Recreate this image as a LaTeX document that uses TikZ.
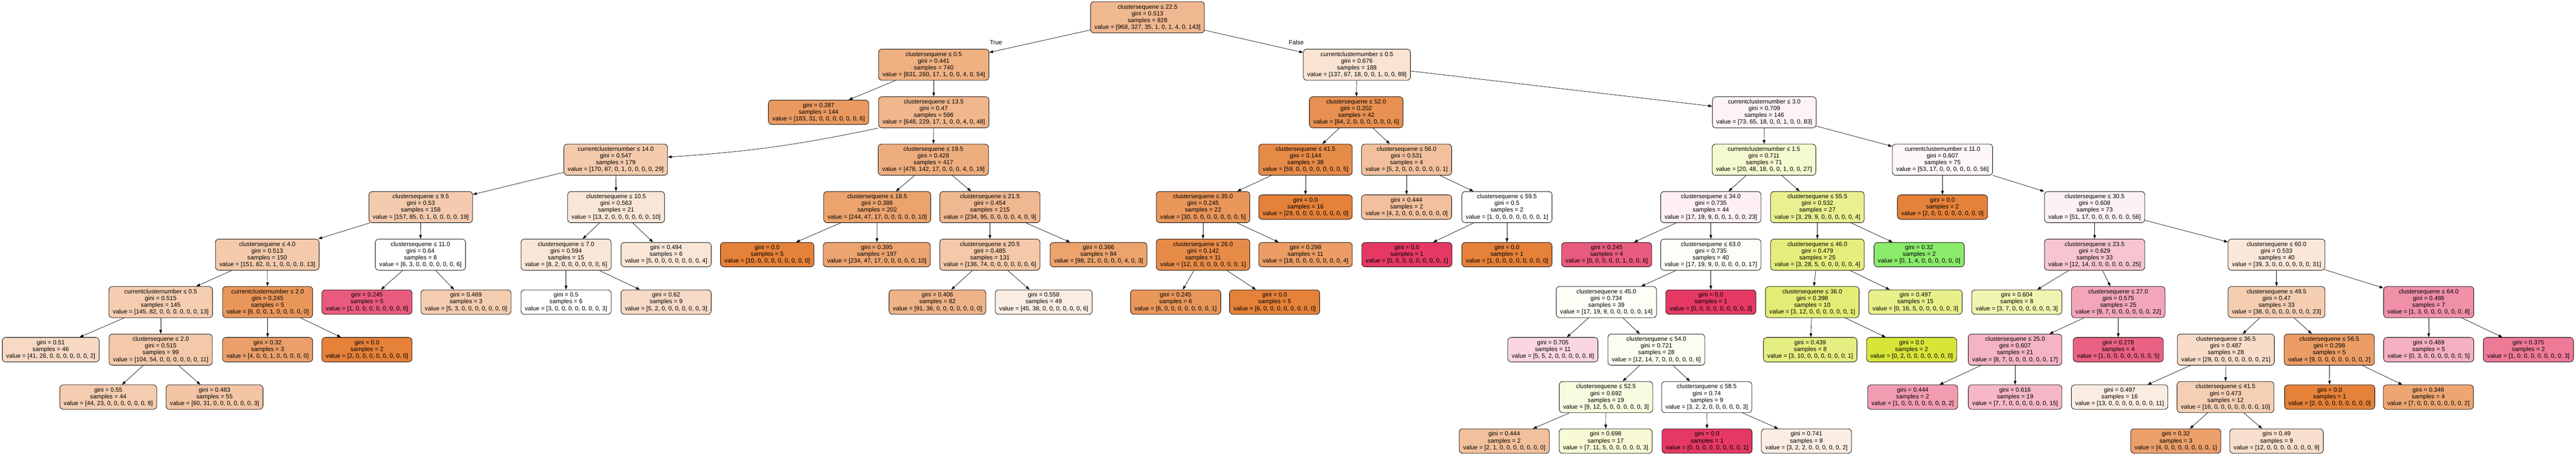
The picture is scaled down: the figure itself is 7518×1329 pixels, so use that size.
\documentclass[tikz,border=0pt]{standalone}
\usepackage{fontspec}
\setmainfont{Liberation Sans}
\usetikzlibrary{arrows.meta}

\begin{document}
\begin{tikzpicture}[x=0.02cm, y=-0.02cm,
  box/.style={draw=black, line width=0.7pt, rounded corners=0.2cm, align=center, inner xsep=6.5pt, inner ysep=4.4pt, font=\fontsize{10.1}{11.2}\selectfont},
  arr/.style={line width=0.6pt, -{Triangle[length=6.5pt, width=4.5pt]}},
  lbl/.style={font=\fontsize{10.1}{11.2}\selectfont}]
\definecolor{clsa}{HTML}{E58139}
\definecolor{clsb}{HTML}{D7E539}
\definecolor{clsc}{HTML}{64E539}
\definecolor{clsi}{HTML}{E53964}

\path [use as bounding box, fill=white] (0,0) rectangle (7518,1329);

\node [box, fill=clsa!56] (n0) at (3349,50.5) {clustersequene ≤ 22.5\\gini = 0.513\\samples = 928\\value = [968, 327, 35, 1, 0, 1, 4, 0, 143]};

\node [box, fill=clsa!63] (n1) at (2725,189) {clustersequene ≤ 0.5\\gini = 0.441\\samples = 740\\value = [831, 260, 17, 1, 0, 0, 4, 0, 54]};
\node [box, fill=clsa!22] (n2) at (3960,189) {currentclusternumber ≤ 0.5\\gini = 0.676\\samples = 188\\value = [137, 67, 18, 0, 0, 1, 0, 0, 89]};

\node [box, fill=clsa!80] (n3) at (2389,328) {gini = 0.287\\samples = 144\\value = [183, 31, 0, 0, 0, 0, 0, 0, 6]};
\node [box, fill=clsa!58] (n4) at (2725,328) {clustersequene ≤ 13.5\\gini = 0.47\\samples = 596\\value = [648, 229, 17, 1, 0, 0, 4, 0, 48]};
\node [box, fill=clsa!88] (n5) at (3958,328) {clustersequene ≤ 52.0\\gini = 0.202\\samples = 42\\value = [64, 2, 0, 0, 0, 0, 0, 0, 6]};
\node [box, fill=clsi!6] (n6) at (5149,328) {currentclusternumber ≤ 3.0\\gini = 0.709\\samples = 146\\value = [73, 65, 18, 0, 0, 1, 0, 0, 83]};

\node [box, fill=clsa!42] (n7) at (1797,466.5) {currentclusternumber ≤ 14.0\\gini = 0.547\\samples = 179\\value = [170, 87, 0, 1, 0, 0, 0, 0, 29]};
\node [box, fill=clsa!65] (n8) at (2724,466.5) {clustersequene ≤ 19.5\\gini = 0.428\\samples = 417\\value = [478, 142, 17, 0, 0, 0, 4, 0, 19]};
\node [box, fill=clsa!92] (n9) at (3810,466.5) {clustersequene ≤ 41.5\\gini = 0.144\\samples = 38\\value = [59, 0, 0, 0, 0, 0, 0, 0, 5]};
\node [box, fill=clsa!50] (n10) at (4105,466.5) {clustersequene ≤ 56.0\\gini = 0.531\\samples = 4\\value = [5, 2, 0, 0, 0, 0, 0, 0, 1]};
\node [box, fill=clsb!24] (n11) at (5148,466.5) {currentclusternumber ≤ 1.5\\gini = 0.711\\samples = 71\\value = [20, 48, 18, 0, 0, 1, 0, 0, 27]};
\node [box, fill=clsi!4] (n12) at (5669,466.5) {currentclusternumber ≤ 11.0\\gini = 0.607\\samples = 75\\value = [53, 17, 0, 0, 0, 0, 0, 0, 56]};

\node [box, fill=clsa!41] (n13) at (1228,605) {clustersequene ≤ 9.5\\gini = 0.53\\samples = 158\\value = [157, 85, 0, 1, 0, 0, 0, 0, 19]};
\node [box, fill=clsa!20] (n14) at (1798,605) {clustersequene ≤ 10.5\\gini = 0.563\\samples = 21\\value = [13, 2, 0, 0, 0, 0, 0, 0, 10]};
\node [box, fill=clsa!73] (n15) at (2560,605) {clustersequene ≤ 18.5\\gini = 0.386\\samples = 202\\value = [244, 47, 17, 0, 0, 0, 0, 0, 10]};
\node [box, fill=clsa!56] (n16) at (2889,605) {clustersequene ≤ 21.5\\gini = 0.454\\samples = 215\\value = [234, 95, 0, 0, 0, 0, 4, 0, 9]};
\node [box, fill=clsa!83] (n17) at (3511,605) {clustersequene ≤ 35.0\\gini = 0.245\\samples = 22\\value = [30, 0, 0, 0, 0, 0, 0, 0, 5]};
\node [box, fill=clsa] (n18) at (3810,605) {gini = 0.0\\samples = 16\\value = [29, 0, 0, 0, 0, 0, 0, 0, 0]};
\node [box, fill=clsa!50] (n19) at (4105,605) {gini = 0.444\\samples = 2\\value = [4, 2, 0, 0, 0, 0, 0, 0, 0]};
\node [box, fill=white] (n20) at (4398,605) {clustersequene ≤ 59.5\\gini = 0.5\\samples = 2\\value = [1, 0, 0, 0, 0, 0, 0, 0, 1]};
\node [box, fill=clsi!8] (n21) at (4993,605) {clustersequene ≤ 34.0\\gini = 0.735\\samples = 44\\value = [17, 19, 9, 0, 0, 1, 0, 0, 23]};
\node [box, fill=clsb!56] (n22) at (5304,605) {clustersequene ≤ 55.5\\gini = 0.532\\samples = 27\\value = [3, 29, 9, 0, 0, 0, 0, 0, 4]};
\node [box, fill=clsa] (n23) at (5669,605) {gini = 0.0\\samples = 2\\value = [2, 0, 0, 0, 0, 0, 0, 0, 0]};
\node [box, fill=clsi!7] (n24) at (6113,605) {clustersequene ≤ 30.5\\gini = 0.608\\samples = 73\\value = [51, 17, 0, 0, 0, 0, 0, 0, 56]};

\node [box, fill=clsa!42] (n25) at (780,744) {clustersequene ≤ 4.0\\gini = 0.513\\samples = 150\\value = [151, 82, 0, 1, 0, 0, 0, 0, 13]};
\node [box, fill=white] (n26) at (1227,744) {clustersequene ≤ 11.0\\gini = 0.64\\samples = 8\\value = [6, 3, 0, 0, 0, 0, 0, 0, 6]};
\node [box, fill=clsa!20] (n27) at (1652,744) {clustersequene ≤ 7.0\\gini = 0.594\\samples = 15\\value = [8, 2, 0, 0, 0, 0, 0, 0, 6]};
\node [box, fill=clsa!20] (n28) at (1944,744) {gini = 0.494\\samples = 6\\value = [5, 0, 0, 0, 0, 0, 0, 0, 4]};
\node [box, fill=clsa] (n29) at (2239,744) {gini = 0.0\\samples = 5\\value = [10, 0, 0, 0, 0, 0, 0, 0, 0]};
\node [box, fill=clsa!72] (n30) at (2559,744) {gini = 0.395\\samples = 197\\value = [234, 47, 17, 0, 0, 0, 0, 0, 10]};
\node [box, fill=clsa!44] (n31) at (2889,744) {clustersequene ≤ 20.5\\gini = 0.485\\samples = 131\\value = [136, 74, 0, 0, 0, 0, 0, 0, 6]};
\node [box, fill=clsa!73] (n32) at (3206,744) {gini = 0.366\\samples = 84\\value = [98, 21, 0, 0, 0, 0, 4, 0, 3]};
\node [box, fill=clsa!92] (n33) at (3511,744) {clustersequene ≤ 26.0\\gini = 0.142\\samples = 11\\value = [12, 0, 0, 0, 0, 0, 0, 0, 1]};
\node [box, fill=clsa!78] (n34) at (3810,744) {gini = 0.298\\samples = 11\\value = [18, 0, 0, 0, 0, 0, 0, 0, 4]};
\node [box, fill=clsi] (n35) at (4106,744) {gini = 0.0\\samples = 1\\value = [0, 0, 0, 0, 0, 0, 0, 0, 1]};
\node [box, fill=clsa] (n36) at (4398,744) {gini = 0.0\\samples = 1\\value = [1, 0, 0, 0, 0, 0, 0, 0, 0]};
\node [box, fill=clsi!83] (n37) at (4689,744) {gini = 0.245\\samples = 4\\value = [0, 0, 0, 0, 0, 1, 0, 0, 6]};
\node [box, fill=clsb!4] (n38) at (4993,744) {clustersequene ≤ 63.0\\gini = 0.735\\samples = 40\\value = [17, 19, 9, 0, 0, 0, 0, 0, 17]};
\node [box, fill=clsb!66] (n39) at (5304,744) {clustersequene ≤ 46.0\\gini = 0.479\\samples = 25\\value = [3, 28, 5, 0, 0, 0, 0, 0, 4]};
\node [box, fill=clsc!75] (n40) at (5601,744) {gini = 0.32\\samples = 2\\value = [0, 1, 4, 0, 0, 0, 0, 0, 0]};
\node [box, fill=clsi!30] (n41) at (6113,744) {clustersequene ≤ 23.5\\gini = 0.629\\samples = 33\\value = [12, 14, 0, 0, 0, 0, 0, 0, 25]};
\node [box, fill=clsa!19] (n42) at (6644,744) {clustersequene ≤ 60.0\\gini = 0.533\\samples = 40\\value = [39, 3, 0, 0, 0, 0, 0, 0, 31]};

\node [box, fill=clsa!40] (n43) at (469,882.5) {currentclusternumber ≤ 0.5\\gini = 0.515\\samples = 145\\value = [145, 82, 0, 0, 0, 0, 0, 0, 13]};
\node [box, fill=clsa!83] (n44) at (781,882.5) {currentclusternumber ≤ 2.0\\gini = 0.245\\samples = 5\\value = [6, 0, 0, 1, 0, 0, 0, 0, 0]};
\node [box, fill=clsi!83] (n45) at (1071,882.5) {gini = 0.245\\samples = 5\\value = [1, 0, 0, 0, 0, 0, 0, 0, 6]};
\node [box, fill=clsa!40] (n46) at (1360,882.5) {gini = 0.469\\samples = 3\\value = [5, 3, 0, 0, 0, 0, 0, 0, 0]};
\node [box, fill=white] (n47) at (1652,882.5) {gini = 0.5\\samples = 6\\value = [3, 0, 0, 0, 0, 0, 0, 0, 3]};
\node [box, fill=clsa!29] (n48) at (1944,882.5) {gini = 0.62\\samples = 9\\value = [5, 2, 0, 0, 0, 0, 0, 0, 3]};
\node [box, fill=clsa!60] (n49) at (2736,882.5) {gini = 0.406\\samples = 82\\value = [91, 36, 0, 0, 0, 0, 0, 0, 0]};
\node [box, fill=clsa!14] (n50) at (3046,882.5) {gini = 0.558\\samples = 49\\value = [45, 38, 0, 0, 0, 0, 0, 0, 6]};
\node [box, fill=clsa!83] (n51) at (3431,882.5) {gini = 0.245\\samples = 6\\value = [6, 0, 0, 0, 0, 0, 0, 0, 1]};
\node [box, fill=clsa] (n52) at (3720,882.5) {gini = 0.0\\samples = 5\\value = [6, 0, 0, 0, 0, 0, 0, 0, 0]};
\node [box, fill=clsb!5] (n53) at (4688,882.5) {clustersequene ≤ 45.0\\gini = 0.734\\samples = 39\\value = [17, 19, 9, 0, 0, 0, 0, 0, 14]};
\node [box, fill=clsi] (n54) at (4993,882.5) {gini = 0.0\\samples = 1\\value = [0, 0, 0, 0, 0, 0, 0, 0, 3]};
\node [box, fill=clsb!69] (n55) at (5289,882.5) {clustersequene ≤ 36.0\\gini = 0.398\\samples = 10\\value = [3, 12, 0, 0, 0, 0, 0, 0, 1]};
\node [box, fill=clsb!58] (n56) at (5590,882.5) {gini = 0.497\\samples = 15\\value = [0, 16, 5, 0, 0, 0, 0, 0, 3]};
\node [box, fill=clsb!40] (n57) at (5886,882.5) {gini = 0.604\\samples = 8\\value = [3, 7, 0, 0, 0, 0, 0, 0, 3]};
\node [box, fill=clsi!45] (n58) at (6182,882.5) {clustersequene ≤ 27.0\\gini = 0.575\\samples = 25\\value = [9, 7, 0, 0, 0, 0, 0, 0, 22]};
\node [box, fill=clsa!39] (n59) at (6644,882.5) {clustersequene ≤ 49.5\\gini = 0.47\\samples = 33\\value = [38, 0, 0, 0, 0, 0, 0, 0, 23]};
\node [box, fill=clsi!56] (n60) at (7088,882.5) {clustersequene ≤ 64.0\\gini = 0.486\\samples = 7\\value = [1, 3, 0, 0, 0, 0, 0, 0, 8]};

\node [box, fill=clsa!30] (n61) at (148,1021.5) {gini = 0.51\\samples = 46\\value = [41, 28, 0, 0, 0, 0, 0, 0, 2]};
\node [box, fill=clsa!43] (n62) at (469,1021.5) {clustersequene ≤ 2.0\\gini = 0.515\\samples = 99\\value = [104, 54, 0, 0, 0, 0, 0, 0, 11]};
\node [box, fill=clsa!75] (n63) at (781,1021.5) {gini = 0.32\\samples = 3\\value = [4, 0, 0, 1, 0, 0, 0, 0, 0]};
\node [box, fill=clsa] (n64) at (1071,1021.5) {gini = 0.0\\samples = 2\\value = [2, 0, 0, 0, 0, 0, 0, 0, 0]};
\node [box, fill=clsi!20] (n65) at (4532,1021.5) {gini = 0.705\\samples = 11\\value = [5, 5, 2, 0, 0, 0, 0, 0, 8]};
\node [box, fill=clsb!7] (n66) at (4834,1021.5) {clustersequene ≤ 54.0\\gini = 0.721\\samples = 28\\value = [12, 14, 7, 0, 0, 0, 0, 0, 6]};
\node [box, fill=clsb!64] (n67) at (5283,1021.5) {gini = 0.439\\samples = 8\\value = [3, 10, 0, 0, 0, 0, 0, 0, 1]};
\node [box, fill=clsb] (n68) at (5579,1021.5) {gini = 0.0\\samples = 2\\value = [0, 2, 0, 0, 0, 0, 0, 0, 0]};
\node [box, fill=clsi!38] (n69) at (5881,1021.5) {clustersequene ≤ 25.0\\gini = 0.607\\samples = 21\\value = [8, 7, 0, 0, 0, 0, 0, 0, 17]};
\node [box, fill=clsi!80] (n70) at (6182,1021.5) {gini = 0.278\\samples = 4\\value = [1, 0, 0, 0, 0, 0, 0, 0, 5]};
\node [box, fill=clsa!28] (n71) at (6496,1021.5) {clustersequene ≤ 36.5\\gini = 0.487\\samples = 28\\value = [29, 0, 0, 0, 0, 0, 0, 0, 21]};
\node [box, fill=clsa!78] (n72) at (6798,1021.5) {clustersequene ≤ 56.5\\gini = 0.298\\samples = 5\\value = [9, 0, 0, 0, 0, 0, 0, 0, 2]};
\node [box, fill=clsi!40] (n73) at (7088,1021.5) {gini = 0.469\\samples = 5\\value = [0, 3, 0, 0, 0, 0, 0, 0, 5]};
\node [box, fill=clsi!67] (n74) at (7379,1021.5) {gini = 0.375\\samples = 2\\value = [1, 0, 0, 0, 0, 0, 0, 0, 3]};

\node [box, fill=clsa!40] (n75) at (316,1160) {gini = 0.55\\samples = 44\\value = [44, 23, 0, 0, 0, 0, 0, 0, 8]};
\node [box, fill=clsa!46] (n76) at (626,1160) {gini = 0.483\\samples = 55\\value = [60, 31, 0, 0, 0, 0, 0, 0, 3]};
\node [box, fill=clsb!15] (n77) at (4687,1160) {clustersequene ≤ 52.5\\gini = 0.692\\samples = 19\\value = [9, 12, 5, 0, 0, 0, 0, 0, 3]};
\node [box, fill=white] (n78) at (4981,1160) {clustersequene ≤ 58.5\\gini = 0.74\\samples = 9\\value = [3, 2, 2, 0, 0, 0, 0, 0, 3]};
\node [box, fill=clsi!50] (n79) at (5582,1160) {gini = 0.444\\samples = 2\\value = [1, 0, 0, 0, 0, 0, 0, 0, 2]};
\node [box, fill=clsi!36] (n80) at (5881,1160) {gini = 0.616\\samples = 19\\value = [7, 7, 0, 0, 0, 0, 0, 0, 15]};
\node [box, fill=clsa!15] (n81) at (6186,1160) {gini = 0.497\\samples = 16\\value = [13, 0, 0, 0, 0, 0, 0, 0, 11]};
\node [box, fill=clsa!38] (n82) at (6495,1160) {clustersequene ≤ 41.5\\gini = 0.473\\samples = 12\\value = [16, 0, 0, 0, 0, 0, 0, 0, 10]};
\node [box, fill=clsa] (n83) at (6799,1160) {gini = 0.0\\samples = 1\\value = [2, 0, 0, 0, 0, 0, 0, 0, 0]};
\node [box, fill=clsa!71] (n84) at (7087,1160) {gini = 0.346\\samples = 4\\value = [7, 0, 0, 0, 0, 0, 0, 0, 2]};

\node [box, fill=clsa!50] (n85) at (4390,1288.5) {gini = 0.444\\samples = 2\\value = [2, 1, 0, 0, 0, 0, 0, 0, 0]};
\node [box, fill=clsb!21] (n86) at (4686,1288.5) {gini = 0.698\\samples = 17\\value = [7, 11, 5, 0, 0, 0, 0, 0, 3]};
\node [box, fill=clsi] (n87) at (4982,1288.5) {gini = 0.0\\samples = 1\\value = [0, 0, 0, 0, 0, 0, 0, 0, 1]};
\node [box, fill=clsa!14] (n88) at (5272,1288.5) {gini = 0.741\\samples = 8\\value = [3, 2, 2, 0, 0, 0, 0, 0, 2]};
\node [box, fill=clsa!75] (n89) at (6350,1288.5) {gini = 0.32\\samples = 3\\value = [4, 0, 0, 0, 0, 0, 0, 0, 1]};
\node [box, fill=clsa!25] (n90) at (6644,1288.5) {gini = 0.49\\samples = 9\\value = [12, 0, 0, 0, 0, 0, 0, 0, 9]};

\node [lbl] (ltrue) at (2907,124) {True};
\node [lbl] (lfalse) at (3783,124) {False};

\draw [arr] (n0) -- (n1);
\draw [arr] (n0) -- (n2);
\draw [arr] (n1) -- (n3);
\draw [arr] (n1) -- (n4);
\draw [arr] (n2) -- (n5);
\draw [arr] (n2) -- (n6);
\draw [arr] (n4.south west) to [bend left=4] (n7);
\draw [arr] (n4) -- (n8);
\draw [arr] (n5) -- (n9);
\draw [arr] (n5) -- (n10);
\draw [arr] (n6) -- (n11);
\draw [arr] (n6) -- (n12);
\draw [arr] (n7) -- (n13);
\draw [arr] (n7) -- (n14);
\draw [arr] (n8) -- (n15);
\draw [arr] (n8) -- (n16);
\draw [arr] (n9) -- (n17);
\draw [arr] (n9) -- (n18);
\draw [arr] (n10) -- (n19);
\draw [arr] (n10) -- (n20);
\draw [arr] (n11) -- (n21);
\draw [arr] (n11) -- (n22);
\draw [arr] (n12) -- (n23);
\draw [arr] (n12) -- (n24);
\draw [arr] (n13) -- (n25);
\draw [arr] (n13) -- (n26);
\draw [arr] (n14) -- (n27);
\draw [arr] (n14) -- (n28);
\draw [arr] (n15) -- (n29);
\draw [arr] (n15) -- (n30);
\draw [arr] (n16) -- (n31);
\draw [arr] (n16) -- (n32);
\draw [arr] (n17) -- (n33);
\draw [arr] (n17) -- (n34);
\draw [arr] (n20) -- (n35);
\draw [arr] (n20) -- (n36);
\draw [arr] (n21) -- (n37);
\draw [arr] (n21) -- (n38);
\draw [arr] (n22) -- (n39);
\draw [arr] (n22) -- (n40);
\draw [arr] (n24) -- (n41);
\draw [arr] (n24) -- (n42);
\draw [arr] (n25) -- (n43);
\draw [arr] (n25) -- (n44);
\draw [arr] (n26) -- (n45);
\draw [arr] (n26) -- (n46);
\draw [arr] (n27) -- (n47);
\draw [arr] (n27) -- (n48);
\draw [arr] (n31) -- (n49);
\draw [arr] (n31) -- (n50);
\draw [arr] (n33) -- (n51);
\draw [arr] (n33) -- (n52);
\draw [arr] (n38) -- (n53);
\draw [arr] (n38) -- (n54);
\draw [arr] (n39) -- (n55);
\draw [arr] (n39) -- (n56);
\draw [arr] (n41) -- (n57);
\draw [arr] (n41) -- (n58);
\draw [arr] (n42) -- (n59);
\draw [arr] (n42) -- (n60);
\draw [arr] (n43) -- (n61);
\draw [arr] (n43) -- (n62);
\draw [arr] (n44) -- (n63);
\draw [arr] (n44) -- (n64);
\draw [arr] (n53) -- (n65);
\draw [arr] (n53) -- (n66);
\draw [arr] (n55) -- (n67);
\draw [arr] (n55) -- (n68);
\draw [arr] (n58) -- (n69);
\draw [arr] (n58) -- (n70);
\draw [arr] (n59) -- (n71);
\draw [arr] (n59) -- (n72);
\draw [arr] (n60) -- (n73);
\draw [arr] (n60) -- (n74);
\draw [arr] (n62) -- (n75);
\draw [arr] (n62) -- (n76);
\draw [arr] (n66) -- (n77);
\draw [arr] (n66) -- (n78);
\draw [arr] (n69) -- (n79);
\draw [arr] (n69) -- (n80);
\draw [arr] (n71) -- (n81);
\draw [arr] (n71) -- (n82);
\draw [arr] (n72) -- (n83);
\draw [arr] (n72) -- (n84);
\draw [arr] (n77) -- (n85);
\draw [arr] (n77) -- (n86);
\draw [arr] (n78) -- (n87);
\draw [arr] (n78) -- (n88);
\draw [arr] (n82) -- (n89);
\draw [arr] (n82) -- (n90);
\end{tikzpicture}
\end{document}
